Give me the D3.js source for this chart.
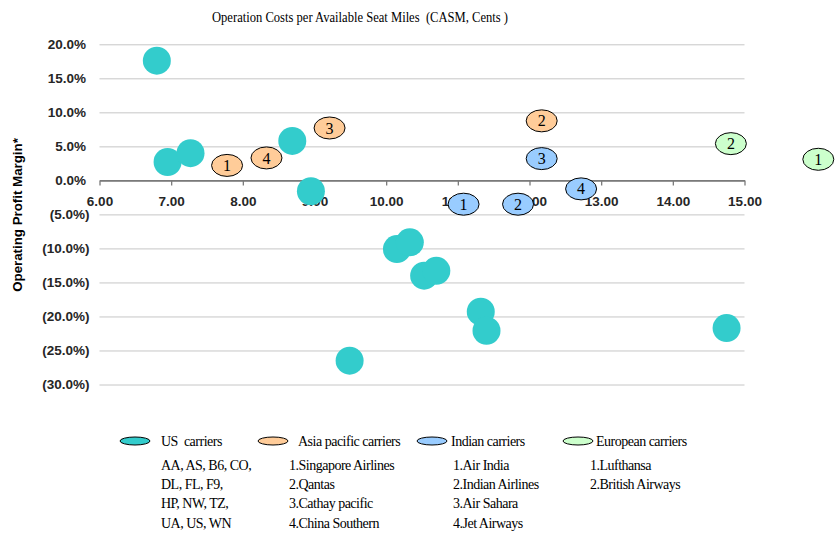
<!DOCTYPE html>
<html>
<head>
<meta charset="utf-8">
<script src="https://cdn.jsdelivr.net/npm/d3@7"></script>
<style>
  html, body { margin: 0; padding: 0; background: #fff; }
  svg { display: block; }
  .serif { font-family: "Liberation Serif", "Times New Roman", serif; }
  .sans { font-family: "Liberation Sans", Arial, sans-serif; }
</style>
</head>
<body>
<svg id="chart" width="835" height="533"></svg>
<script>
// ---- Data ----
const titleText = "Operation Costs per Available Seat Miles  (CASM, Cents )";
const yAxisTitle = "Operating Profit Margin*";
const xTicks = [6, 7, 8, 9, 10, 11, 12, 13, 14, 15];
const yTicks = [20, 15, 10, 5, 0, -5, -10, -15, -20, -25, -30];

// US carriers (CASM cents, operating margin %)
const usX = [6.80, 6.95, 7.27, 8.69, 8.95, 9.49, 10.15, 10.33, 10.53, 10.70, 11.32, 11.40, 14.75];
const usY = [17.6, 2.7, 4.0, 5.8, -1.6, -26.5, -10.1, -9.1, -14.0, -13.3, -19.3, -22.1, -21.7];

// Asia pacific carriers
const asiaLabels = ["1", "2", "3", "4"];
const asiaX = [7.78, 12.17, 9.21, 8.33];
const asiaY = [2.2, 8.75, 7.7, 3.3];

// Indian carriers
const indiaLabels = ["1", "2", "3", "4"];
const indiaX = [11.08, 11.84, 12.17, 12.72];
const indiaY = [-3.5, -3.5, 3.2, -1.25];

// European carriers
const euroLabels = ["1", "2"];
const euroX = [16.03, 14.81];
const euroY = [3.1, 5.4];

// Legend
const legendNames = ["US  carriers", "Asia pacific carriers", "Indian carriers", "European carriers"];
const legendLines = [
  ["AA, AS, B6, CO,", "DL, FL, F9,", "HP, NW, TZ,", "UA, US, WN"],
  ["1.Singapore Airlines", "2.Qantas", "3.Cathay pacific", "4.China Southern"],
  ["1.Air India", "2.Indian Airlines", "3.Air Sahara", "4.Jet Airways"],
  ["1.Lufthansa", "2.British Airways"]
];
const colors = ["#33CCCC", "#FFCC99", "#99CCFF", "#CCFFCC"];

// ---- Layout ----
const svg = d3.select("#chart");
const x = d3.scaleLinear().domain([6, 15]).range([99.5, 744.5]);
const y = d3.scaleLinear().domain([-30, 20]).range([384.5, 44.3]);

// Title
svg.append("text").attr("class", "serif")
  .attr("x", 212).attr("y", 17).attr("dy", "0.35em")
  .attr("font-size", 14)
  .attr("textLength", 296).attr("lengthAdjust", "spacingAndGlyphs")
  .style("white-space", "pre")
  .attr("fill", "#000")
  .text(titleText);

// Y gridlines + labels
const yAxis = d3.axisLeft(y).tickValues(yTicks)
  .tickSize(-(x.range()[1] - x.range()[0]))
  .tickPadding(10)
  .tickFormat(v => v >= 0 ? d3.format(".1f")(v) + "%" : "(" + d3.format(".1f")(-v) + "%)");
const gy = svg.append("g").attr("transform", `translate(${x.range()[0]},0)`).call(yAxis);
gy.select(".domain").remove();
gy.selectAll(".tick line").attr("stroke", "#c6c6c6").attr("stroke-width", 1);
gy.selectAll(".tick text")
  .attr("class", "sans")
  .attr("font-size", 13.5).attr("font-weight", "bold").attr("fill", "#262626")
  .attr("dx", d => d >= 0 ? -3.5 : 0);

// X axis at 0%
const xAxis = d3.axisBottom(x).tickValues(xTicks)
  .tickSize(5).tickSizeOuter(0).tickPadding(11)
  .tickFormat(d3.format(".2f"));
const gx = svg.append("g").attr("transform", `translate(0,${y(0)})`).call(xAxis);
gx.select(".domain").attr("stroke", "#7a7a7a").attr("stroke-width", 1.6);
gx.selectAll(".tick line").attr("stroke", "#7a7a7a").attr("stroke-width", 1.3);
gx.selectAll(".tick text")
  .attr("class", "sans")
  .attr("font-size", 13.5).attr("font-weight", "bold").attr("fill", "#262626");

// Y axis title
svg.append("text").attr("class", "sans")
  .attr("transform", "translate(22,215) rotate(-90)")
  .attr("text-anchor", "middle")
  .attr("font-size", 13.3).attr("font-weight", "bold").attr("fill", "#000")
  .text(yAxisTitle);

// US bubbles
const usData = usX.map((v, i) => ({ x: v, y: usY[i] }));
svg.append("g").selectAll("circle").data(usData).join("circle")
  .attr("cx", d => x(d.x)).attr("cy", d => y(d.y)).attr("r", 14)
  .attr("fill", colors[0]);

// Labeled ellipse groups
function drawGroup(labels, xs, ys, color) {
  const data = labels.map((l, i) => ({ l, x: xs[i], y: ys[i] }));
  const g = svg.append("g");
  const items = g.selectAll("g").data(data).join("g")
    .attr("transform", d => `translate(${x(d.x)},${y(d.y)})`);
  items.append("ellipse").attr("rx", 15.5).attr("ry", 11)
    .attr("fill", color).attr("stroke", "#000").attr("stroke-width", 1);
  items.append("text").attr("class", "serif")
    .attr("text-anchor", "middle").attr("dy", "0.35em")
    .attr("font-size", 16).attr("fill", "#000")
    .text(d => d.l);
}
drawGroup(asiaLabels, asiaX, asiaY, colors[1]);
drawGroup(indiaLabels, indiaX, indiaY, colors[2]);
drawGroup(euroLabels, euroX, euroY, colors[3]);

// Legend
const legSymX = [135, 273, 432, 578];
const legTextX = [161, 298, 451, 596];
const legLineX = [161, 289, 453, 590];
const legHeadY = 441;
const legLineY0 = 465, legLineStep = 19.4;
const lg = svg.append("g");
legendNames.forEach((name, i) => {
  lg.append("ellipse").attr("cx", legSymX[i]).attr("cy", legHeadY)
    .attr("rx", 15).attr("ry", 4)
    .attr("fill", colors[i]).attr("stroke", "#000").attr("stroke-width", 1);
  lg.append("text").attr("class", "serif")
    .attr("x", legTextX[i]).attr("y", legHeadY).attr("dy", "0.33em")
    .attr("font-size", 14).attr("letter-spacing", "-0.5px")
    .style("white-space", "pre").attr("fill", "#000")
    .text(name);
  legendLines[i].forEach((line, j) => {
    lg.append("text").attr("class", "serif")
      .attr("x", legLineX[i]).attr("y", legLineY0 + j * legLineStep).attr("dy", "0.33em")
      .attr("font-size", 14).attr("letter-spacing", "-0.5px")
      .attr("fill", "#000")
      .text(line);
  });
});
</script>
</body>
</html>
